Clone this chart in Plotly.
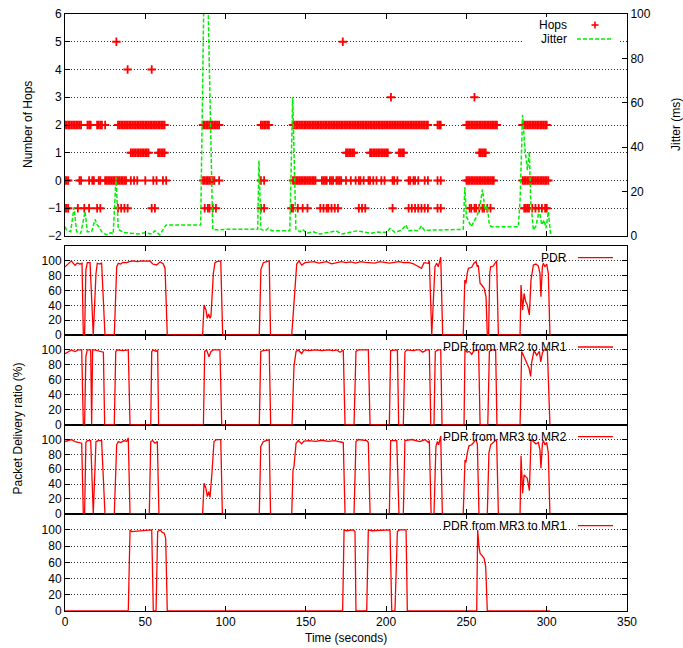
import plotly.graph_objects as go

# ---------------- data ----------------
# Number of hops: sample times (s) at each hop level
HOPS_5 = [32, 173]
HOPS_4 = [39, 54]
HOPS_3 = [203, 255]
HOPS_2 = [*range(0, 11), *range(14, 17), *range(20, 24), 25, *range(33, 63), *range(86, 97),
          *range(122, 128), *range(142, 227), *range(232, 235), *range(250, 270), *range(285, 301)]
HOPS_1 = [*range(41, 53), *range(58, 63), *range(175, 181), *range(190, 202), *range(208, 212),
          *range(258, 263)]
HOPS_0 = [0, 1, 2, 9, 10, 15, 17, 18, 21, 22, *range(25, 39), 41, 43, 45, 50, 55, 57, 61, 63,
          *range(86, 94), 96, 122, 124, *range(142, 157), 160, 161, 162, 163, 165, 166, 167, 169,
          170, 171, 172, 175, 178, 181, 183, 184, 186, 189, 190, 192, 194, 197, 199, 204, 205, 207,
          214, 215, 217, 218, 220, 224, 226, 232, 234, *range(250, 268), *range(285, 302)]
HOPS_M1 = [0, 1, 2, 8, 12, 15, 20, 22, 33, 35, 37, 39, 54, 56, 87, 89, 90, 92, 94, 122, 124, 141,
           142, 145, 148, 151, 159, 161, 163, 164, 166, 168, 170, 183, 185, 187, 204, 214, 216, 218,
           220, 222, 224, 226, 232, 234, 252, 253, 255, 256, 258, 260, 261, 263, 265, 286, 287, 288,
           289, 291, 293, 295, 297, 299, 300]

# Jitter (ms)
JIT_T = [0, 1, 3.5, 5.6, 7.3, 9.8, 12.5, 13.9, 16.6, 18.7, 20.1, 21.4, 22.8, 26, 28.5, 30, 31.8,
         33.2, 36.3, 40.5, 45.7, 50, 54, 56, 59, 63, 84.5, 87.5, 92, 95.5, 99.6, 120, 120.8, 122,
         124.6, 126.6, 128.7, 140, 141.8, 143.8, 146.4, 148, 150.5, 154.6, 158.8, 163, 168.8, 172.3,
         177.5, 181.7, 185.8, 190, 195, 200.3, 202.4, 205.5, 209.7, 212.4, 213.8, 217, 220, 222,
         224, 228.4, 233.5, 239.3, 248, 249, 250, 251, 253, 256.3, 258, 260, 261.6, 263, 264.3,
         265.7, 282.3, 283.4, 285, 286.5, 288, 289.2, 290, 291.7, 293.3, 295.4, 296.9, 298.3,
         299.6, 301, 302.5]
JIT_V = [4.2, 2.7, 1.9, 12.8, 1.9, 1.2, 11, 1.9, 1.9, 7.5, 5, 3.9, 1.9, 0.5, 1.5, 0.8, 26.4,
         3, 1.6, 1.2, 0.9, 1.5, 0.9, 2.4, 0.5, 5, 5, 160, 3, 2.7, 3, 3, 34, 3,
         2.3, 3.5, 2.4, 2.4, 62.5, 3, 1.9, 3, 1.2, 1.9, 0.9, 1.5, 2.3, 0.9,
         1.8, 2.3, 1.9, 1.2, 1.8, 1.6, 3.5, 1.6, 2.7, 5, 2.3, 2.7, 2.3, 4.6,
         2.4, 2.7, 2.7, 2.7, 3, 22, 8.7, 7.2, 4.2, 8.7, 11.7, 21, 11.7, 13.5, 5,
         4.2, 4.2, 16, 54.5, 38.7, 29.7, 38, 16, 2.7, 4.5, 11.7, 5, 7.2,
         3.5, 11, 0]

# PDR (%)
PDR_T = [0, 2, 4, 6.2, 7.7, 9.3, 10.6, 11.4, 12.2, 13, 13.9, 15.6, 17.6, 19.3, 20.1, 21.8, 22.8,
         24.9, 30.7, 32.2, 33.2, 34.7, 36, 38.4, 40, 42.5, 45, 48, 50, 53, 54.6, 57.1, 59.2, 61.2,
         62.3, 63.7, 85.7, 86.6, 87.8, 88.6, 89.5, 90.3, 90.9, 92.4, 93.4, 94.5, 97, 98.2, 121,
         122, 123.5, 125.6, 127.2, 128, 141.2, 142.6, 144.3, 145.7, 147.4, 149.5, 152, 155, 158,
         160, 163, 166, 169, 172, 175, 178, 181, 184, 187, 190, 193, 196, 199, 202, 205, 208, 211,
         214, 217, 220, 222, 223.6, 226.3, 226.9, 228.4, 230.4, 231.5, 232.5, 234, 235.2, 248, 249,
         249.7, 250.5, 251.2, 253.3, 254.7, 256, 256.8, 257.4, 258.5, 259.5, 261, 262.2, 263,
         263.8, 264.5, 265.1, 266.7, 268.8, 269.9, 283.4, 284, 285, 285.9, 286.9, 287.9, 289.2,
         290.2, 291.7, 293.3, 294.8, 295.8, 296.4, 297.3, 297.9, 298.9, 300, 301, 302]
PDR_V = [92, 95.7, 100, 94, 97, 95.7, 96.7, 0, 0, 87.6, 97.5, 97.5, 0, 83, 96.7, 95.7, 97.5,
         0, 0, 92, 96.7, 95.7, 98, 97.5, 99, 99.8, 99, 100, 99.5, 99.8, 95.7, 94.4, 98.8, 95.7,
         90, 0, 0, 40.4, 33.7, 22.5, 28.3, 22.5, 25.6, 83, 97.5, 98.8, 99.8, 0, 0,
         88.6, 97.5, 98.8, 99.8, 0, 0, 42.7, 95.7, 100, 94.4, 97.5, 98, 99, 97,
         98, 99, 96, 98, 99, 97.5, 98.5, 97, 99, 98, 98, 97, 99, 98.5, 97, 98, 99, 97.5,
         98, 96, 93, 90, 97.5, 96.7, 100, 0, 92, 96.7, 92, 105, 0, 0, 74,
         69.7, 83, 90, 91.3, 96.7, 98.8, 92, 94, 69.7, 67.4, 63, 51.7, 0,
         0, 83, 92, 93, 100, 0, 0, 67.4, 33.7, 56, 45, 40.4, 27,
         74, 94.4, 95.7, 93, 83, 51.7, 92, 96.7, 92, 95.7, 83, 0]

MR2_MR1_T = [0, 2, 4, 6.2, 8.3, 10.4, 11.4, 12.2, 13, 13.9, 16, 16.6, 17.2, 18.2, 21.8, 23.9,
             24.7, 30.7, 31.6, 32.6, 36, 39.4, 40.5, 53.4, 54, 55, 56.7, 57.7, 58.3, 86.2, 87,
             88.2, 89.7, 90.9, 92.4, 96.5, 97.6, 121, 121.9, 123.5, 127.2, 128.1, 141.4, 142.6,
             143.9, 145.3, 147.4, 148.8, 152, 156, 160, 164, 167, 169.2, 171.3, 173.3, 174.4, 180,
             181.2, 182.7, 188.9, 190, 202, 202.8, 207, 207.8, 210.7, 211.7, 212.8, 215, 217, 219,
             221, 222.8, 225.3, 226.9, 227.8, 229.8, 230.6, 232.5, 234, 234.8, 248.5, 249.1, 250.5,
             251.8, 253.3, 254.7, 256.4, 257.6, 258.5, 263.3, 264.3, 265.8, 268.2, 269, 283.4,
             284.4, 285.9, 287.5, 289, 290, 290.7, 292.1, 293.8, 295.4, 296.3, 297.3, 298.3, 300.4,
             301.6, 302]
MR2_MR1_V = [95, 97.8, 100, 97.8, 100, 100, 0, 0, 91, 100, 100, 0, 100, 100, 98, 97,
             0, 0, 98, 100, 99, 100, 0, 0, 98, 100, 98, 100, 0, 0, 98,
             100, 91, 98, 100, 100, 0, 0, 98, 99, 100, 0, 0, 78,
             98, 100, 95, 100, 99, 100, 99, 100, 99, 100, 97, 100, 0, 0,
             98, 100, 100, 0, 0, 99, 100, 0, 0, 97, 100, 99, 99, 100,
             100, 97, 100, 100, 0, 0, 98, 100, 100, 0, 0, 100, 97,
             98, 94, 99, 100, 100, 0, 0, 98, 100, 100, 0, 0,
             98, 91, 84, 75.6, 64.5, 84, 99, 93, 98, 84, 96, 100, 100,
             0, 0]

MR3_MR2_T = [0, 2, 4, 6.2, 8.3, 10.4, 11.4, 12.2, 13, 13.9, 16, 17.6, 19.3, 20.7, 22.8, 24.9,
             30.7, 32.2, 33.2, 34.7, 36.8, 38.4, 39.4, 40.5, 52.5, 53.4, 54.6, 56, 57.5, 58.5,
             85.7, 86.6, 87.8, 88.6, 89.5, 90.3, 91.5, 92.8, 94.5, 97, 98, 121, 121.9, 123.5,
             127.2, 128, 141.2, 142, 142.6, 143.9, 145.3, 147.4, 148.8, 152, 156, 160, 164, 168,
             171, 173.3, 174.4, 180, 181.2, 182.7, 187.9, 188.9, 190, 202, 202.8, 206.6, 208,
             210.7, 211.7, 216, 221, 224.2, 226.3, 226.9, 228, 229.8, 231, 231.9, 232.7, 234, 235,
             248, 249.1, 249.7, 250.5, 251.6, 253.3, 254.7, 256, 256.8, 257.8, 263, 264, 265.1,
             266.7, 268.8, 269.9, 283.4, 284, 285, 285.9, 286.9, 287.9, 289.2, 290.2, 291.7, 293.3,
             294.8, 295.8, 296.4, 297.3, 297.9, 298.9, 300, 301, 302]
MR3_MR2_V = [97.3, 98.6, 100, 97.3, 96, 95, 0, 0, 96, 98.6, 98.6, 0, 97.3, 98.6, 98.6, 0,
             0, 93, 97.3, 96, 98.6, 97.3, 102, 0, 0, 97.3, 98.6, 95, 97.3, 0,
             0, 41, 34, 23, 29.7, 22, 54.6, 97.3, 100, 100, 0, 0, 90.5, 97.3,
             100, 0, 0, 59, 63.5, 95, 98.6, 94.2, 98, 98.6, 97.5, 99, 97.5, 98.6,
             97, 96, 0, 0, 97.3, 100, 98.6, 96, 0, 0, 98.6, 98.6, 0,
             0, 98.6, 100, 97.3, 100, 96, 98.6, 0, 0, 90.5, 97.3, 93, 104.6, 0,
             0, 72.5, 69, 81.6, 91.5, 93, 97.3, 100, 94, 0, 0, 81.6, 93,
             96, 100, 0, 0, 78, 27.5, 52.3, 50, 47.7, 31, 99.6, 97.3, 94.2,
             96, 86, 61.3, 94.2, 98.6, 93, 96, 81.6, 0]

MR3_MR1_T = [0, 39.4, 40.5, 41.5, 46.7, 54, 55, 56.7, 57.7, 59.2, 60.6, 61.8, 62.7, 63.7, 172.9,
             173.8, 175.4, 179.5, 180.6, 181.2, 187.9, 188.9, 191, 202.4, 203.5, 205.5, 207, 208.2,
             212.4, 213.2, 256.4, 257, 257.8, 258.5, 259.5, 261, 262, 263, 302]
MR3_MR1_V = [0, 0, 100, 98, 98.8, 100, 0, 0, 98, 100, 97, 96, 89.7, 0, 0,
             100, 99, 100, 98, 0, 0, 100, 99, 100, 0, 0, 98, 100,
             100, 0, 0, 100, 79.3, 71, 69, 65, 54.5, 0, 0]

X_TICKS = [0, 50, 100, 150, 200, 250, 300, 350]
HOP_TICKS = [-2, -1, 0, 1, 2, 3, 4, 5, 6]
JIT_TICKS = [0, 20, 40, 60, 80, 100]
PDR_TICKS = [0, 20, 40, 60, 80, 100]

# ---------------- figure ----------------
RED = "#ff0000"
GREEN = "#00ee00"
FONT = "Liberation Sans, Arial, Helvetica, sans-serif"
GRID = dict(showgrid=True, gridcolor="#333333", griddash="1px,2px", gridwidth=1)

W, H = 683, 648
ML, MR, MT, MB = 65, 683 - 627, 14, 648 - 611

fig = go.Figure()

hop_x = HOPS_5 + HOPS_4 + HOPS_3 + HOPS_2 + HOPS_1 + HOPS_0 + HOPS_M1
hop_y = ([5] * len(HOPS_5) + [4] * len(HOPS_4) + [3] * len(HOPS_3) + [2] * len(HOPS_2)
         + [1] * len(HOPS_1) + [0] * len(HOPS_0) + [-1] * len(HOPS_M1))

fig.add_trace(go.Scatter(x=hop_x, y=hop_y, mode="markers", name="Hops", xaxis="x5", yaxis="y5",
                         marker=dict(symbol="cross-thin", size=6, line=dict(color=RED, width=1.8),
                                     color=RED)))
fig.add_trace(go.Scatter(x=JIT_T, y=JIT_V, mode="lines", name="Jitter", xaxis="x5", yaxis="y6",
                         line=dict(color=GREEN, width=1.5, dash="4px,2px")))

panels = [
    ("x4", "y4", PDR_T, PDR_V, "PDR"),
    ("x3", "y3", MR2_MR1_T, MR2_MR1_V, "PDR from MR2 to MR1"),
    ("x2", "y2", MR3_MR2_T, MR3_MR2_V, "PDR from MR3 to MR2"),
    ("x", "y", MR3_MR1_T, MR3_MR1_V, "PDR from MR3 to MR1"),
]
for xa, ya, t, v, nm in panels:
    fig.add_trace(go.Scatter(x=t, y=v, mode="lines", name=nm, xaxis=xa, yaxis=ya,
                             line=dict(color=RED, width=1.3)))

# window-pixel helpers for paper coordinates (plot area 65..627 x 14..611)
def px(x):
    return (x - 65) / 562.0

def py(y):
    return (611 - y) / 597.0

doms = {
    "y": [0.0, py(513.7)],
    "y2": [py(513.7), py(424.7)],
    "y3": [py(424.7), py(335)],
    "y4": [py(335), py(246)],
    "y5": [py(236), 1.0],
}

axis_common = dict(showline=True, linecolor="black", linewidth=1, ticks="inside", ticklen=5,
                   tickcolor="black", tickfont=dict(size=12, color="black", family=FONT),
                   zeroline=False, automargin=False, ticklabeloverflow="allow")

layout = dict(
    width=W, height=H,
    margin=dict(l=ML, r=MR, t=MT, b=MB, autoexpand=False),
    paper_bgcolor="white", plot_bgcolor="white",
    showlegend=False,
    font=dict(family=FONT, size=12, color="black"),
)

x_names = ["xaxis", "xaxis2", "xaxis3", "xaxis4", "xaxis5"]
y_names = ["y", "y2", "y3", "y4", "y5"]
for i, (xn, yn) in enumerate(zip(x_names, y_names)):
    d = dict(axis_common, domain=[0, 1], anchor=yn, range=[0, 350], tickvals=X_TICKS,
             showgrid=False, mirror="ticks", showticklabels=(i == 0))
    if i > 0:
        d["matches"] = "x"
    layout[xn] = d

for yn in ["y", "y2", "y3", "y4"]:
    key = "yaxis" if yn == "y" else "yaxis" + yn[1:]
    xa = "x" if yn == "y" else "x" + yn[1:]
    layout[key] = dict(axis_common, **GRID, domain=doms[yn], anchor=xa, range=[0, 120],
                       tickvals=PDR_TICKS, mirror="ticks")

layout["yaxis5"] = dict(axis_common, **GRID, domain=doms["y5"], anchor="x5", range=[-2, 6],
                        tickvals=HOP_TICKS, mirror=True)
layout["yaxis6"] = dict(axis_common, overlaying="y5", side="right", anchor="x5", range=[0, 100],
                        tickvals=JIT_TICKS, showgrid=False)

fig.update_layout(**layout)

# key box in the top panel (opaque, like gnuplot's key)
shapes = [
    dict(type="rect", xref="paper", yref="paper", x0=px(522), x1=px(620), y0=py(46), y1=py(17),
         fillcolor="white", line=dict(width=0), layer="above"),
    # Hops sample "+"
    dict(type="line", xref="paper", yref="paper", x0=px(591.5), x1=px(598.5), y0=py(25), y1=py(25),
         line=dict(color=RED, width=1.6), layer="above"),
    dict(type="line", xref="paper", yref="paper", x0=px(595), x1=px(595), y0=py(21.5), y1=py(28.5),
         line=dict(color=RED, width=1.6), layer="above"),
    # Jitter sample
    dict(type="line", xref="paper", yref="paper", x0=px(577), x1=px(613), y0=py(39), y1=py(39),
         line=dict(color=GREEN, width=1.5, dash="4px,2px"), layer="above"),
]
key_rows = [("PDR", 257.7), ("PDR from MR2 to MR1", 347), ("PDR from MR3 to MR2", 436.7),
            ("PDR from MR3 to MR1", 525.7)]
for _, yy in key_rows:
    shapes.append(dict(type="line", xref="paper", yref="paper", x0=px(578), x1=px(613),
                       y0=py(yy), y1=py(yy), line=dict(color=RED, width=1.3), layer="above"))

annotations = [
    dict(text="Hops", x=px(569), y=py(25), xanchor="right", yanchor="middle"),
    dict(text="Jitter", x=px(569), y=py(39), xanchor="right", yanchor="middle"),
]
for txt, yy in key_rows:
    annotations.append(dict(text=txt, x=px(569), y=py(yy), xanchor="right", yanchor="middle"))
annotations += [
    dict(text="Number of Hops", x=px(28), y=py(125), textangle=-90, xanchor="center",
         yanchor="middle"),
    dict(text="Jitter (ms)", x=px(676), y=py(125), textangle=-90, xanchor="center",
         yanchor="middle"),
    dict(text="Packet Delivery ratio (%)", x=px(17), y=py(428.5), textangle=-90,
         xanchor="center", yanchor="middle"),
    dict(text="Time (seconds)", x=px(346), y=py(638), xanchor="center", yanchor="middle"),
]
for a in annotations:
    a.update(xref="paper", yref="paper", showarrow=False,
             font=dict(size=12, color="black", family=FONT))

fig.update_layout(shapes=shapes, annotations=annotations)

# place the figure flush with the window's top-left corner (no page margin / scrollbars)
fig.write_html("out.html",
               config={"displayModeBar": False},
               post_script="document.body.style.margin='0';"
                           "document.body.style.overflow='hidden';")
